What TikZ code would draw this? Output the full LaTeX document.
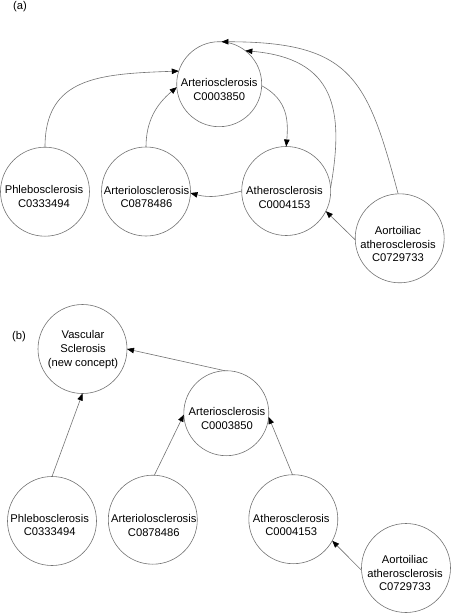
\documentclass[tikz,border=0pt]{standalone}
\usepackage{fontspec}
\setmainfont{Liberation Sans}
\usetikzlibrary{arrows.meta}
\begin{document}
\begin{tikzpicture}[x=1pt,y=1pt,
  circ/.style={circle,draw=black!55,line width=0.6pt,minimum size=89pt,inner sep=0pt,outer sep=0pt},
  circs/.style={circ,minimum size=85pt},
  txt/.style={align=center,inner sep=0pt,font=\fontsize{11.2}{13.8}\selectfont},
  conn/.style={draw=black!55,line width=0.6pt,-{Triangle[length=7pt,width=5.5pt,color=black]}},
]
\useasboundingbox (0,0) rectangle (451,-613);
% (a)
\node[txt] (la) at (20,-7) {(a)};
\node[circs] (art) at (219.2,-84.2) {};
\node[txt] (artt) at (219.2,-89.7) {Arteriosclerosis\\C0003850};
\node[circ] (phl) at (45,-191.7) {};
\node[txt] (phlt) at (44,-196.3) {Phlebosclerosis\\C0333494};
\node[circ] (aol) at (146,-191.5) {};
\node[txt] (aolt) at (146.5,-197) {Arteriolosclerosis\\C0878486};
\node[circ] (ath) at (286.2,-191) {};
\node[txt] (atht) at (284.5,-197.2) {Atherosclerosis\\C0004153};
\node[circ] (aor) at (399.7,-238.3) {};
\node[txt] (aort) at (398,-244) {Aortoiliac\\atherosclerosis\\C0729733};
\draw[conn] (phl.90) to[out=90,in=182,out distance=70pt,in distance=80pt] (art.162);
\draw[conn] (aol.90) to[out=90,in=220] (art.184);
\draw[conn] (art.-2) to[out=-28,in=85,out distance=30pt,in distance=25pt] (ath.90);
\draw[conn] (ath.180) to[out=195,in=-15] (aol.-2);
\draw[conn] (ath.4) to[out=80,in=-5,out distance=80pt,in distance=90pt] (art.52);
\draw[conn] (aor.92) to[out=105,in=0,out distance=120pt,in distance=130pt] (art.87);
\draw[conn] (aor.182) -- (ath.-27);
% (b)
\node[txt] (lb) at (19,-337) {(b)};
\node[circ] (vas) at (82.5,-349) {};
\node[txt] (vast) at (83,-349.3) {Vascular\\Sclerosis\\(new concept)};
\node[circs] (art2) at (226.3,-413.2) {};
\node[txt] (art2t) at (227,-418.7) {Arteriosclerosis\\C0003850};
\node[circ] (phl2) at (52,-521) {};
\node[txt] (phl2t) at (49.7,-525) {Phlebosclerosis\\C0333494};
\node[circ] (aol2) at (152.8,-519.7) {};
\node[txt] (aol2t) at (153.8,-525.5) {Arteriolosclerosis\\C0878486};
\node[circ] (ath2) at (293.3,-519.2) {};
\node[txt] (ath2t) at (291.2,-525) {Atherosclerosis\\C0004153};
\node[circ] (aor2) at (406,-568) {};
\node[txt] (aor2t) at (405,-573) {Aortoiliac\\atherosclerosis\\C0729733};
\draw[conn] (phl2.90) -- (vas.-90);
\draw[conn] (aol2.88) -- (art2.182);
\draw[conn] (ath2.91) -- (art2.-5);
\draw[conn] (art2.92) -- (vas.0);
\draw[conn] (aor2.183) -- (ath2.-29);
\end{tikzpicture}
\end{document}
